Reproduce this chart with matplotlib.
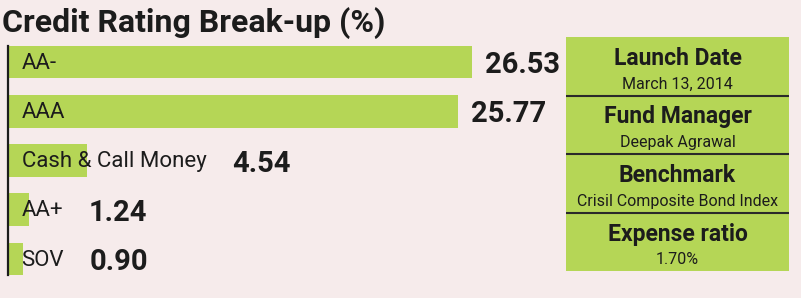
import matplotlib
matplotlib.use("Agg")
import matplotlib.pyplot as plt

# ---- Data ----
categories = ["AA-", "AAA", "Cash & Call Money", "AA+", "SOV"]
shares = [26.53, 25.77, 4.54, 1.24, 0.90]

info_titles = ["Launch Date", "Fund Manager", "Benchmark", "Expense ratio"]
info_values = ["March 13, 2014", "Deepak Agrawal", "Crisil Composite Bond Index", "1.70%"]

# ---- Style ----
BG = "#f6ebeb"
GREEN = "#b5d656"
INK = "#1c1c1c"
plt.rcParams["font.family"] = ["Roboto", "DejaVu Sans"]

W, H = 801, 298
fig = plt.figure(figsize=(W / 100, H / 100), dpi=100, facecolor=BG)

def px(x0, y0, x1, y1):
    # pixel box (top-left origin) -> figure fraction rect
    return [x0 / W, 1 - y1 / H, (x1 - x0) / W, (y1 - y0) / H]

fig.text(2 / W, 1 - 32 / H, "Credit Rating Break-up (%)", fontsize=23,
         fontweight="bold", color=INK, va="baseline", ha="left")

# ---- Bars ----
ax = fig.add_axes(px(7.5, 37.5, 567.5, 283.5))
ax.set_facecolor(BG)
y = list(range(len(categories)))
ax.barh(y, shares, height=0.66, color=GREEN, left=0)
ax.set_xlim(0, 32)
ax.set_ylim(len(categories) - 0.5, -0.5)
ax.set_xticks([])
ax.set_yticks([])
for s in ["top", "right", "bottom"]:
    ax.spines[s].set_visible(False)
ax.spines["left"].set_color(INK)
ax.spines["left"].set_linewidth(1.6)
ax.spines["left"].set_bounds(-0.33, len(categories) - 1 + 0.33)

labels = []
for i, cat in enumerate(categories):
    t = ax.annotate(cat, xy=(0, i), xytext=(14 * 0.72, 1), textcoords="offset points",
                    fontsize=16, color=INK, va="center_baseline", ha="left")
    labels.append(t)

fig.canvas.draw()
rend = fig.canvas.get_renderer()
for i, val in enumerate(shares):
    bb = labels[i].get_window_extent(rend)
    bar_end = ax.transData.transform((val, i))[0]
    xpx = max(bar_end + 13, bb.x1 + 26)
    xd = ax.transData.inverted().transform((xpx, 0))[0]
    ax.text(xd, i, f"{val:.2f}", fontsize=21, fontweight="bold", color=INK,
            va="center_baseline", ha="left")

# ---- Info box ----
box = fig.add_axes(px(566, 37, 789, 271))
box.set_facecolor(GREEN)
box.set_xticks([])
box.set_yticks([])
for s in box.spines.values():
    s.set_visible(False)
box.set_xlim(0, 1)
box.set_ylim(0, 1)
n = len(info_titles)
cell = 1 / n
for k in range(1, n):
    box.axhline(1 - k * cell, color="#2a2a2a", lw=1.5)
box_h = 234
for k, (ttl, val) in enumerate(zip(info_titles, info_values)):
    top = 1 - k * cell
    box.text(0.5, top - 19 / box_h, ttl, fontsize=16.5, fontweight="bold", color=INK,
             ha="center", va="center_baseline")
    box.text(0.5, top - 46 / box_h, val, fontsize=11.5, color=INK,
             ha="center", va="center_baseline")

fig.savefig("out.png", dpi=100, facecolor=BG)
